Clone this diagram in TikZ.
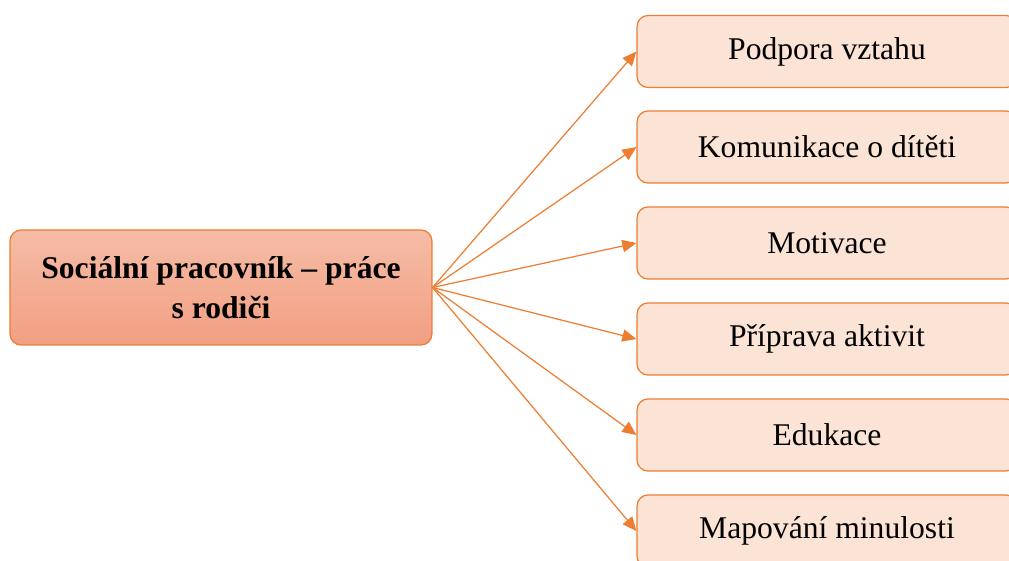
\documentclass[tikz,border=0pt]{standalone}
\usepackage{fontspec}
\setmainfont{Liberation Serif}
\usetikzlibrary{arrows.meta}
\definecolor{lineorange}{HTML}{ED7D31}
\definecolor{boxfill}{HTML}{FBE4D6}
\definecolor{topfill}{HTML}{F5BCA6}
\definecolor{botfill}{HTML}{F29F82}

\begin{document}
\begin{tikzpicture}[x=0.02cm, y=-0.02cm,
    mainbox/.style={draw=lineorange, line width=0.7pt, rounded corners=0.22cm,
        top color=topfill, bottom color=botfill, minimum width=8.44cm, minimum height=2.3cm,
        align=center, font=\bfseries\fontsize{18}{23}\selectfont},
    itembox/.style={draw=lineorange, line width=0.7pt, rounded corners=0.22cm,
        fill=boxfill, minimum width=7.6cm, minimum height=1.44cm,
        font=\fontsize{18}{22}\selectfont},
    link/.style={draw=lineorange, line width=0.7pt, -{Triangle[length=8pt,width=7pt]}}]
    \useasboundingbox (0,0) rectangle (1009,561);
    \clip (0,0) rectangle (1009,561);

    \node[mainbox] (soc) at (221, 287.5) {Sociální pracovník – práce\\s rodiči};

    \node[itembox] (p1) at (827, 51.5) {Podpora vztahu};
    \node[itembox] (p2) at (827, 147) {Komunikace o dítěti};
    \node[itembox] (p3) at (827, 243) {Motivace};
    \node[itembox] (p4) at (827, 339) {Příprava aktivit};
    \node[itembox] (p5) at (827, 435) {Edukace};
    \node[itembox] (p6) at (827, 531) {Mapování minulosti};

    \draw [link] (soc.east) -- (p1.west);
    \draw [link] (soc.east) -- (p2.west);
    \draw [link] (soc.east) -- (p3.west);
    \draw [link] (soc.east) -- (p4.west);
    \draw [link] (soc.east) -- (p5.west);
    \draw [link] (soc.east) -- (p6.west);

\end{tikzpicture}
\end{document}
